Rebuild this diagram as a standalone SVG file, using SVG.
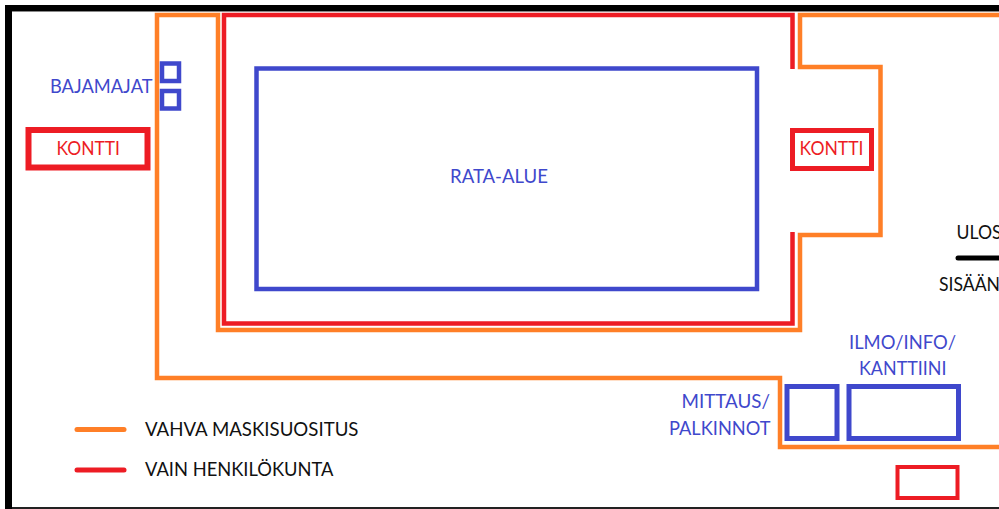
<svg xmlns="http://www.w3.org/2000/svg" width="999" height="509" viewBox="0 0 999 509">
<style>
.o{fill:none;stroke:#ff7f27}
.r{fill:none;stroke:#ed1c24}
.b{fill:none;stroke:#3f48cc}
text{font-family:Lato,"Liberation Sans",sans-serif;font-size:19.500px}
.tb{fill:#3f48cc}.tr{fill:#ed1c24}.tk{fill:#111}
</style>
<rect width="999" height="509" fill="#fff"/>
<g id="frame">
<rect x="5" y="5" width="994" height="6" fill="#000"/>
<rect x="5" y="5" width="7" height="504" fill="#000"/>
<rect x="12" y="11" width="987" height="1" fill="#888"/>
<rect x="12" y="507" width="987" height="2" fill="#222"/>
</g>
<g id="connectors">
<path class="o" stroke-width="4.500" d="M999 15H800V67H880.500V235H800V330H218V15H157V378H780V447H999"/>
<path class="r" stroke-width="4.500" d="M792.500 69V15H224V323.500H792.500V232"/>
<path d="M958 258H999" stroke="#000" stroke-width="5" stroke-linecap="round"/>
</g>
<g id="rata-alue"><rect class="b" x="256.500" y="68.500" width="500.500" height="220.500" stroke-width="4.500"/>
<text class="tb" x="450" y="182.500" textLength="98" lengthAdjust="spacingAndGlyphs">RATA-ALUE</text></g>
<g id="bajamajat"><rect class="b" x="162" y="63.500" width="17" height="17.500" stroke-width="4.500"/>
<rect class="b" x="162" y="91" width="17" height="17.500" stroke-width="4.500"/>
<text class="tb" x="50" y="92.500" textLength="102.500" lengthAdjust="spacingAndGlyphs">BAJAMAJAT</text></g>
<g id="kontti-left"><rect class="r" x="28.500" y="130" width="119" height="37.500" stroke-width="6"/>
<text class="tr" x="56.500" y="154.500" textLength="63.500" lengthAdjust="spacingAndGlyphs">KONTTI</text></g>
<g id="kontti-right"><rect class="r" x="792.500" y="130.500" width="79" height="38" stroke-width="5"/>
<text class="tr" x="799.500" y="155" textLength="64" lengthAdjust="spacingAndGlyphs">KONTTI</text></g>
<g id="ulos"><text class="tk" x="956.500" y="239" textLength="45" lengthAdjust="spacingAndGlyphs">ULOS</text></g>
<g id="sisaan"><text class="tk" x="939" y="291" textLength="61" lengthAdjust="spacingAndGlyphs">SISÄÄN</text></g>
<g id="ilmo"><rect class="b" x="849" y="386.500" width="109.500" height="52" stroke-width="5"/>
<text class="tb" x="849" y="349" textLength="107" lengthAdjust="spacingAndGlyphs">ILMO/INFO/</text>
<text class="tb" x="859" y="374.500" textLength="87.500" lengthAdjust="spacingAndGlyphs">KANTTIINI</text></g>
<g id="mittaus"><rect class="b" x="787" y="386.500" width="50" height="52" stroke-width="5"/>
<text class="tb" x="681.500" y="408" textLength="88.500" lengthAdjust="spacingAndGlyphs">MITTAUS/</text>
<text class="tb" x="669" y="435" textLength="101.500" lengthAdjust="spacingAndGlyphs">PALKINNOT</text></g>
<g id="red-box"><rect class="r" x="897.500" y="467" width="60" height="31" stroke-width="4"/></g>
<g id="legend">
<path d="M77 429.500H124" stroke="#ff7f27" stroke-width="5" stroke-linecap="round"/>
<path d="M77 470H124" stroke="#ed1c24" stroke-width="5" stroke-linecap="round"/>
<text class="tk" x="145" y="436" textLength="213.500" lengthAdjust="spacingAndGlyphs">VAHVA MASKISUOSITUS</text>
<text class="tk" x="145" y="476" textLength="188.500" lengthAdjust="spacingAndGlyphs">VAIN HENKILÖKUNTA</text>
</g>
</svg>
